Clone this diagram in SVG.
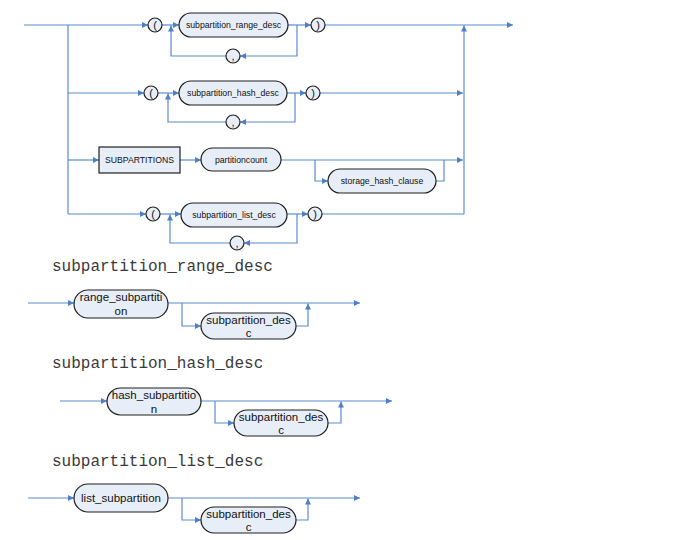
<svg xmlns="http://www.w3.org/2000/svg" width="688" height="540" viewBox="0 0 688 540">
<defs>
<marker id="a" markerUnits="userSpaceOnUse" markerWidth="7" markerHeight="6" refX="6" refY="3" orient="auto"><path d="M0,0 L6,3 L0,6 z" fill="#4f7fc4"/></marker>
<style>
.c path{fill:none;stroke:#5b8bd0;stroke-width:1.2;marker-end:url(#a)}
.c path.n{marker-end:none}
.nd{fill:#e8eef8;stroke:#1e1e1e;stroke-width:1.2}
.t{font-family:"Liberation Sans",Arial,sans-serif;font-size:8.7px;fill:#111;text-anchor:middle}
.p{font-family:"Liberation Sans",Arial,sans-serif;font-size:11px;fill:#111;text-anchor:middle}
.t2{font-family:"Liberation Sans",Arial,sans-serif;font-size:11.5px;fill:#111;text-anchor:middle}
.h{font-family:"Liberation Mono","Courier New",monospace;font-size:16px;fill:#3a3a3a}
</style>
</defs>
<rect width="688" height="540" fill="#fff"/>
<g class="c" id="connectors">
<path d="M24,25 H148"/>
<path d="M162,25 H179"/>
<path d="M288,25 H311"/>
<path d="M325,25 H513"/>
<path d="M297,25 V56 H240"/>
<path d="M226,56 H171 V25.5"/>
<path class="n" d="M68,25 V214"/>
<path d="M68,93 H144"/>
<path d="M158,93 H179"/>
<path d="M287,93 H306"/>
<path d="M320,93 H463"/>
<path d="M295,93 V122 H240"/>
<path d="M226,122 H168 V93.5"/>
<path d="M68,160 H99"/>
<path d="M180,160 H201"/>
<path d="M281,160 H463"/>
<path d="M315,160 V181 H328"/>
<path class="n" d="M436,181 H444 V160"/>
<path d="M68,214 H146"/>
<path d="M160,214 H181"/>
<path d="M287,214 H308"/>
<path class="n" d="M322,214 H464"/>
<path d="M464,214 V25.5"/>
<path d="M297,214 V243 H244"/>
<path d="M230,243 H170 V214.5"/>
<path d="M28,303 H74"/>
<path d="M168,303 H360"/>
<path d="M182,303 V326 H201"/>
<path d="M296,326 H308 V303.5"/>
<path d="M60,401 H107"/>
<path d="M201,401 H392"/>
<path d="M215,401 V423 H234"/>
<path d="M328,423 H341 V401.5"/>
<path d="M28,498 H74"/>
<path d="M168,498 H360"/>
<path d="M182,498 V520 H201"/>
<path d="M296,520 H308 V498.5"/>
</g>
<g id="lp1"><circle class="nd" cx="155" cy="25" r="7"/><text class="p" x="155" y="29">(</text></g>
<g id="n_range"><rect class="nd" x="179" y="13" width="109" height="24" rx="12"/><text class="t" x="233.5" y="28">subpartition_range_desc</text></g>
<g id="rp1"><circle class="nd" cx="318" cy="25" r="7"/><text class="p" x="318" y="29">)</text></g>
<g id="cm1"><circle class="nd" cx="233" cy="56" r="7"/><text class="p" x="233" y="60">,</text></g>
<g id="lp2"><circle class="nd" cx="151" cy="93" r="7"/><text class="p" x="151" y="97">(</text></g>
<g id="n_hash"><rect class="nd" x="179" y="81" width="108" height="24" rx="12"/><text class="t" x="233" y="96">subpartition_hash_desc</text></g>
<g id="rp2"><circle class="nd" cx="313" cy="93" r="7"/><text class="p" x="313" y="97">)</text></g>
<g id="cm2"><circle class="nd" cx="233" cy="122" r="7"/><text class="p" x="233" y="126">,</text></g>
<g id="n_subparts"><rect class="nd" x="99" y="147" width="81" height="26"/><text class="t" x="139.5" y="163">SUBPARTITIONS</text></g>
<g id="n_pcount"><rect class="nd" x="201" y="148" width="80" height="23" rx="11.5"/><text class="t" x="241" y="163">partitioncount</text></g>
<g id="n_storage"><rect class="nd" x="328" y="169" width="108" height="24" rx="12"/><text class="t" x="382" y="184">storage_hash_clause</text></g>
<g id="lp4"><circle class="nd" cx="153" cy="214" r="7"/><text class="p" x="153" y="218">(</text></g>
<g id="n_list"><rect class="nd" x="181" y="203" width="106" height="24" rx="12"/><text class="t" x="234" y="218">subpartition_list_desc</text></g>
<g id="rp4"><circle class="nd" cx="315" cy="214" r="7"/><text class="p" x="315" y="218">)</text></g>
<g id="cm4"><circle class="nd" cx="237" cy="243" r="7"/><text class="p" x="237" y="247">,</text></g>
<text class="h" x="52" y="271">subpartition_range_desc</text>
<text class="h" x="52" y="368">subpartition_hash_desc</text>
<text class="h" x="52" y="466">subpartition_list_desc</text>
<g id="n_range_sub"><rect class="nd" x="74" y="290" width="94" height="28" rx="14"/><text class="t2" x="121" y="301">range_subpartiti</text><text class="t2" x="121" y="315">on</text></g>
<g id="n_sd1"><rect class="nd" x="201" y="313" width="95" height="26" rx="13"/><text class="t2" x="248.5" y="324">subpartition_des</text><text class="t2" x="248.5" y="337">c</text></g>
<g id="n_hash_sub"><rect class="nd" x="107" y="388" width="94" height="27" rx="13.5"/><text class="t2" x="154" y="399">hash_subpartitio</text><text class="t2" x="154" y="413">n</text></g>
<g id="n_sd2"><rect class="nd" x="234" y="410" width="94" height="26" rx="13"/><text class="t2" x="281" y="421">subpartition_des</text><text class="t2" x="281" y="434">c</text></g>
<g id="n_list_sub"><rect class="nd" x="74" y="484" width="94" height="28" rx="14"/><text class="t2" x="121" y="502">list_subpartition</text></g>
<g id="n_sd3"><rect class="nd" x="201" y="507" width="95" height="26" rx="13"/><text class="t2" x="248.5" y="518">subpartition_des</text><text class="t2" x="248.5" y="531">c</text></g>
</svg>
